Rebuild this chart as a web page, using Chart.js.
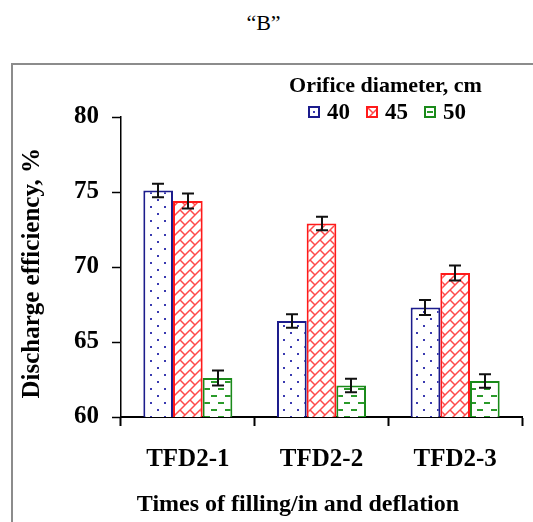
<!DOCTYPE html>
<html>
<head>
<meta charset="utf-8">
<script src="https://cdn.jsdelivr.net/npm/chart.js@4/dist/chart.umd.min.js"></script>
<style>
  html, body { margin: 0; padding: 0; background: #fff; overflow: hidden; }
  #wrap { position: relative; width: 533px; height: 522px; font-family: "Liberation Serif", "Times New Roman", serif; }
  #frame { position: absolute; left: 11px; top: 63px; width: 600px; height: 600px; border-left: 2px solid #8c8c8c; border-top: 2px solid #8c8c8c; }
  #title { position: absolute; left: 0; width: 527px; top: 10px; text-align: center; font-size: 22px; line-height: 26px; }
  #chart { position: absolute; left: 0; top: 0; }
  #legend-head { position: absolute; left: 280px; width: 211px; top: 73px; text-align: center; font-weight: bold; font-size: 22px; line-height: 24px; white-space: nowrap; }
  #legend-items { position: absolute; left: 292px; top: 99px; font-weight: bold; font-size: 23px; line-height: 26px; white-space: nowrap; }
  #legend-items .sw { display: inline-block; box-sizing: border-box; width: 12px; height: 12px; border: 2px solid; margin: 0 7px 0 16px; vertical-align: 1px; background: #fff; }
  #xtitle { position: absolute; left: 0; width: 596px; top: 489px; text-align: center; font-weight: bold; font-size: 24px; line-height: 28px; white-space: nowrap; }
</style>
</head>
<body>
<div id="wrap">
  <div id="frame"></div>
  <div id="title">“B”</div>
  <canvas id="chart" width="533" height="522"></canvas>
  <div id="legend-head"></div>
  <div id="legend-items"></div>
  <div id="xtitle"></div>
</div>
<script>
// Data
const categories = ['TFD2-1', 'TFD2-2', 'TFD2-3'];
const seriesNames = ['40', '45', '50'];
const values40 = [75.1, 66.4, 67.3];
const values45 = [74.4, 72.9, 69.6];
const values50 = [62.6, 62.1, 62.4];
const errors40 = [0.45, 0.45, 0.5];
const errors45 = [0.5, 0.45, 0.5];
const errors50 = [0.5, 0.45, 0.45];
const yTicks = [60, 65, 70, 75, 80];

const legendTitle = 'Orifice diameter, cm';
const xTitle = 'Times of filling/in and deflation';
const yTitle = 'Discharge efficiency, %';

const FONT = '"Liberation Serif", "Times New Roman", serif';

// Pattern tiles
function makeTile(size, draw) {
    const c = document.createElement('canvas');
    c.width = size; c.height = size;
    const g = c.getContext('2d');
    g.fillStyle = '#fff';
    g.fillRect(0, 0, size, size);
    draw(g);
    return c;
}

const dotTile = makeTile(14, (g) => {
    g.fillStyle = '#3a3ab0';
    g.fillRect(3, 3, 2, 2);
    g.fillRect(10, 10, 2, 2);
});

const brickTile = makeTile(10, (g) => {
    g.strokeStyle = '#ff4a4a';
    g.lineWidth = 1.5;
    g.beginPath();
    g.moveTo(-1, 11); g.lineTo(11, -1);
    g.moveTo(-1, 1); g.lineTo(1, -1);
    g.moveTo(9, 11); g.lineTo(11, 9);
    g.moveTo(0, 0); g.lineTo(5, 5);
    g.stroke();
});

const dashTile = makeTile(14, (g) => {
    g.strokeStyle = '#2a9a2a';
    g.lineWidth = 2;
    g.beginPath();
    g.moveTo(1, 4); g.lineTo(7, 4);
    g.moveTo(8, 11); g.lineTo(14, 11);
    g.stroke();
});

const ctx = document.getElementById('chart').getContext('2d');
const seriesStyles = [
    { border: '#1c1c8c', tile: dotTile },
    { border: '#ff1a1a', tile: brickTile },
    { border: '#1a8a1a', tile: dashTile }
];

const seriesValues = [values40, values45, values50];
const seriesErrors = [errors40, errors45, errors50];

const datasets = seriesNames.map((name, i) => ({
    label: name,
    data: seriesValues[i],
    errors: seriesErrors[i],
    backgroundColor: ctx.createPattern(seriesStyles[i].tile, 'repeat'),
    borderColor: seriesStyles[i].border,
    borderWidth: 2,
    borderSkipped: 'start',
    categoryPercentage: 0.666,
    barPercentage: 1.0
}));

// HTML legend and x title
document.getElementById('legend-head').textContent = legendTitle;
document.getElementById('xtitle').textContent = xTitle;
document.getElementById('legend-items').innerHTML = seriesNames.map((name, i) =>
    '<span class="sw" style="border-color:' + seriesStyles[i].border +
    ';background-image:url(' + seriesStyles[i].tile.toDataURL() + ')"></span>' + name
).join('');

// Error bars drawn through the y scale
const errorBars = {
    id: 'errorBars',
    afterDatasetsDraw(chart) {
        const c = chart.ctx;
        const y = chart.scales.y;
        c.save();
        c.strokeStyle = '#111';
        c.lineWidth = 2;
        chart.data.datasets.forEach((ds, i) => {
            chart.getDatasetMeta(i).data.forEach((bar, j) => {
                const v = ds.data[j], e = ds.errors[j];
                const top = y.getPixelForValue(v + e);
                const bot = y.getPixelForValue(v - e);
                const x = Math.round(bar.x);
                c.beginPath();
                c.moveTo(x, top); c.lineTo(x, bot);
                c.moveTo(x - 6, top); c.lineTo(x + 6, top);
                c.moveTo(x - 6, bot); c.lineTo(x + 6, bot);
                c.stroke();
            });
        });
        c.restore();
    }
};

new Chart(ctx, {
    type: 'bar',
    data: { labels: categories, datasets: datasets },
    options: {
        responsive: false,
        animation: false,
        devicePixelRatio: 1,
        layout: { padding: { top: 117, right: 11, bottom: 0, left: 0 } },
        plugins: {
            legend: { display: false },
            tooltip: { enabled: false }
        },
        scales: {
            x: {
                grid: { display: true, drawOnChartArea: false, offset: true, tickLength: 9, tickColor: '#000', tickWidth: 2 },
                border: { color: '#000', width: 2 },
                ticks: { color: '#000', padding: 19, font: { family: FONT, size: 25, weight: 'bold' } },
                title: { display: false },
                afterFit: (scale) => { scale.height = 105; }
            },
            y: {
                min: 60,
                max: 80,
                afterBuildTicks: (scale) => { scale.ticks = yTicks.map(v => ({ value: v })); },
                grid: { display: true, drawOnChartArea: false, tickLength: 9, tickColor: '#000', tickWidth: 1.5 },
                border: { color: '#000', width: 1.5 },
                ticks: { color: '#000', padding: 13, font: { family: FONT, size: 25, weight: 'bold' } },
                title: { display: true, text: yTitle + '\u00a0\u00a0', color: '#000', padding: { top: 18, bottom: 0 }, font: { family: FONT, size: 25, weight: 'bold' } },
                afterFit: (scale) => { scale.width = 121; }
            }
        }
    },
    plugins: [errorBars]
});
</script>
</body>
</html>
